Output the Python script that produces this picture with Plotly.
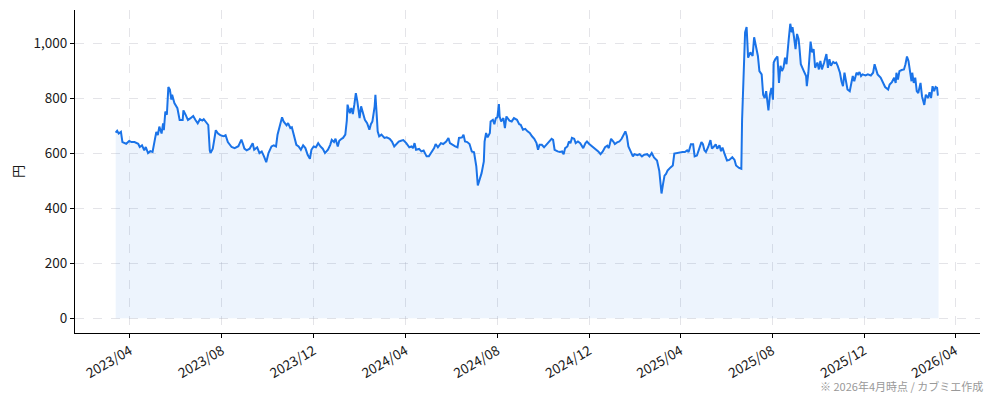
import pandas as pd
import plotly.graph_objects as go

# 日足の終値（チャートから読み取り）
dates_2023 = [
    "03-13", "03-15", "03-17", "03-20", "03-22", "03-27", "03-31", "04-03", "04-07", "04-12",
    "04-14", "04-17", "04-20", "04-22", "04-25", "04-28", "05-01", "05-04", "05-06", "05-08",
    "05-10", "05-13", "05-15", "05-16", "05-18", "05-20", "05-22", "05-24", "05-26", "05-27",
    "05-30", "06-03", "06-06", "06-10", "06-11", "06-14", "06-17", "06-20", "06-24", "06-27",
    "06-30", "07-03", "07-06", "07-08", "07-11", "07-14", "07-16", "07-17", "07-20", "07-24",
    "07-27", "07-30", "08-03", "08-06", "08-09", "08-14", "08-18", "08-23", "08-25", "08-27",
    "08-29", "08-31", "09-03", "09-07", "09-08", "09-11", "09-13", "09-17", "09-20", "09-23",
    "09-26", "09-29", "10-02", "10-06", "10-09", "10-12", "10-14", "10-17", "10-20", "10-22",
    "10-26", "10-28", "10-31", "11-02", "11-05", "11-08", "11-11", "11-14", "11-17", "11-20",
    "11-23", "11-26", "11-28", "12-01", "12-04", "12-07", "12-10", "12-13", "12-16", "12-20",
    "12-23", "12-25", "12-28", "12-30",
]
close_2023 = [
    674, 681, 671, 677, 640, 634, 644, 640, 640, 634,
    622, 628, 610, 622, 600, 607, 604, 649, 677, 665,
    696, 671, 708, 683, 751, 739, 840, 831, 794, 812,
    782, 763, 720, 720, 755, 739, 720, 726, 735, 720,
    708, 723, 718, 723, 714, 702, 610, 600, 616, 683,
    671, 665, 661, 665, 640, 622, 618, 625, 637, 649,
    634, 616, 610, 616, 621, 636, 612, 621, 600, 606,
    588, 567, 600, 624, 628, 624, 667, 697, 730, 715,
    701, 709, 691, 694, 661, 630, 624, 612, 628, 618,
    594, 579, 612, 624, 621, 636, 624, 616, 600, 612,
    630, 648, 640, 652,
]

dates_2024 = [
    "01-02", "01-04", "01-07", "01-09", "01-12", "01-14", "01-15", "01-18", "01-20", "01-22",
    "01-24", "01-26", "01-28", "01-31", "02-02", "02-04", "02-07", "02-10", "02-13", "02-15",
    "02-17", "02-20", "02-21", "02-23", "02-24", "02-26", "02-29", "03-04", "03-07", "03-11",
    "03-14", "03-17", "03-20", "03-23", "03-26", "03-29", "04-02", "04-06", "04-09", "04-11",
    "04-13", "04-15", "04-19", "04-22", "04-25", "04-29", "05-02", "05-06", "05-09", "05-11",
    "05-14", "05-18", "05-21", "05-25", "05-28", "05-30", "06-03", "06-06", "06-09", "06-11",
    "06-15", "06-17", "06-19", "06-22", "06-25", "06-28", "07-01", "07-04", "07-06", "07-08",
    "07-11", "07-14", "07-15", "07-17", "07-19", "07-22", "07-23", "07-26", "07-28", "07-30",
    "08-01", "08-03", "08-04", "08-06", "08-09", "08-11", "08-13", "08-17", "08-20", "08-23",
    "08-27", "08-30", "09-01", "09-04", "09-07", "09-10", "09-13", "09-16", "09-19", "09-22",
    "09-24", "09-26", "09-29", "10-02", "10-05", "10-08", "10-12", "10-14", "10-16", "10-20",
    "10-23", "10-26", "10-28", "10-30", "11-02", "11-04", "11-06", "11-08", "11-11", "11-13",
    "11-16", "11-19", "11-23", "11-26", "11-28", "12-01", "12-05", "12-08", "12-13", "12-16",
    "12-19", "12-22", "12-25", "12-27", "12-30",
]
close_2024 = [
    624, 645, 652, 655, 667, 718, 776, 745, 764, 742,
    776, 818, 788, 727, 770, 752, 721, 709, 685, 705,
    715, 770, 812, 727, 679, 661, 667, 655, 657, 652,
    642, 624, 633, 642, 645, 647, 636, 621, 624, 618,
    636, 612, 615, 606, 609, 588, 588, 606, 618, 633,
    621, 636, 633, 642, 655, 636, 628, 624, 621, 655,
    657, 667, 642, 640, 633, 606, 603, 552, 482, 503,
    527, 570, 642, 673, 657, 673, 715, 721, 705, 727,
    730, 778, 733, 715, 727, 691, 733, 718, 715, 727,
    721, 705, 703, 685, 688, 679, 673, 661, 652, 636,
    612, 630, 630, 621, 630, 642, 652, 648, 612, 606,
    604, 606, 596, 618, 624, 642, 636, 655, 652, 636,
    642, 636, 618, 636, 642, 633, 624, 618, 606, 596,
    606, 621, 627, 618, 652,
]

dates_2025 = [
    "01-02", "01-04", "01-07", "01-10", "01-13", "01-16", "01-18", "01-20", "01-22", "01-25",
    "01-28", "01-30", "02-03", "02-06", "02-09", "02-12", "02-16", "02-19", "02-22", "02-25",
    "03-01", "03-04", "03-06", "03-07", "03-09", "03-11", "03-13", "03-15", "03-19", "03-22",
    "03-24", "03-27", "03-31", "04-04", "04-07", "04-10", "04-12", "04-15", "04-18", "04-20",
    "04-23", "04-27", "04-29", "05-01", "05-03", "05-05", "05-08", "05-11", "05-13", "05-15",
    "05-18", "05-20", "05-23", "05-25", "05-27", "05-30", "06-02", "06-05", "06-09", "06-12",
    "06-14", "06-18", "06-21", "06-22", "06-24", "06-26", "06-28", "06-29", "06-30", "07-03",
    "07-06", "07-08", "07-11", "07-13", "07-15", "07-18", "07-20", "07-22", "07-24", "07-26",
    "07-27", "07-29", "07-31", "08-02", "08-03", "08-05", "08-08", "08-10", "08-12", "08-14",
    "08-16", "08-18", "08-20", "08-23", "08-25", "08-27", "08-28", "08-30", "09-01", "09-03",
    "09-05", "09-06", "09-08", "09-12", "09-15", "09-16", "09-18", "09-21", "09-23", "09-25",
    "09-27", "09-30", "10-02", "10-04", "10-06", "10-09", "10-12", "10-14", "10-16", "10-18",
    "10-21", "10-23", "10-25", "10-27", "10-30", "11-01", "11-03", "11-05", "11-07", "11-09",
    "11-12", "11-14", "11-16", "11-18", "11-21", "11-23", "11-25", "11-27", "11-29", "12-03",
    "12-06", "12-10", "12-13", "12-15", "12-17", "12-19", "12-23", "12-26", "12-29",
]
close_2025 = [
    642, 633, 639, 642, 652, 667, 679, 661, 624, 606,
    588, 596, 592, 596, 588, 594, 596, 588, 600, 584,
    573, 536, 487, 453, 487, 518, 524, 536, 548, 555,
    598, 600, 600, 604, 604, 610, 604, 632, 632, 588,
    591, 628, 640, 632, 610, 604, 622, 647, 616, 622,
    632, 616, 628, 607, 620, 595, 573, 575, 585, 575,
    555, 546, 543, 720, 904, 1039, 1058, 1002, 947, 966,
    953, 1021, 978, 953, 898, 886, 812, 800, 825, 757,
    755, 812, 837, 794, 929, 941, 951, 855, 917, 898,
    910, 947, 923, 1015, 1070, 1039, 1058, 1021, 978, 1033,
    1015, 990, 923, 898, 880, 843, 892, 1005, 966, 978,
    910, 929, 904, 935, 904, 929, 960, 910, 941, 917,
    931, 927, 929, 917, 892, 861, 843, 892, 867, 831,
    825, 849, 880, 861, 892, 886, 894, 880, 886, 882,
    886, 882, 892, 923, 904, 886, 874, 855, 840,
]

dates_2026 = [
    "01-02", "01-04", "01-07", "01-10", "01-12", "01-13", "01-15", "01-17", "01-20", "01-23",
    "01-25", "01-27", "01-29", "01-31", "02-02", "02-03", "02-05", "02-07", "02-09", "02-11",
    "02-14", "02-16", "02-17", "02-19", "02-21", "02-24", "02-26", "02-28", "03-02", "03-04",
    "03-06", "03-08", "03-09", "03-10",
]
close_2026 = [
    831, 849, 858, 874, 855, 892, 867, 898, 902, 904,
    923, 951, 935, 892, 861, 892, 855, 874, 825, 818,
    855, 806, 794, 775, 812, 800, 821, 800, 843, 825,
    840, 837, 812, 812,
]

tick_dates = ["2023-04-01", "2023-08-01", "2023-12-01", "2024-04-01", "2024-08-01",
              "2024-12-01", "2025-04-01", "2025-08-01", "2025-12-01", "2026-04-01"]
y_ticks = [0, 200, 400, 600, 800, 1000]

LINE = "#1a73e8"
FONT = "Noto Sans CJK JP, Noto Sans, sans-serif"

dates = []
close = []
for year, ds, cs in [(2023, dates_2023, close_2023), (2024, dates_2024, close_2024),
                     (2025, dates_2025, close_2025), (2026, dates_2026, close_2026)]:
    dates += [f"{year}-{d}" for d in ds]
    close += cs
df = pd.DataFrame({"date": pd.to_datetime(dates), "close": close})

fig = go.Figure()
fig.add_trace(go.Scatter(
    x=df["date"], y=df["close"], mode="lines",
    line=dict(color=LINE, width=2),
    fill="tozeroy", fillcolor="rgba(26,115,232,0.08)",
    hoverinfo="x+y", showlegend=False,
))

axis_common = dict(
    showline=True, linecolor="black", linewidth=1,
    ticks="outside", ticklen=4, tickcolor="black",
    showgrid=True, gridcolor="rgba(170,170,185,0.32)", griddash="dash", gridwidth=1,
    zeroline=False, automargin=False,
    tickfont=dict(size=13.5, color="#1a1a1a", family=FONT),
)

fig.update_xaxes(
    type="date",
    range=["2023-01-18", "2026-05-04"],
    tickvals=pd.to_datetime(tick_dates),
    ticktext=[pd.Timestamp(t).strftime("%Y/%m") for t in tick_dates],
    tickangle=-30,
    **axis_common,
)
fig.update_yaxes(
    range=[-54, 1120],
    tickvals=y_ticks,
    tickformat=",",
    title=dict(text="円", font=dict(size=13, color="#1a1a1a", family=FONT), standoff=12),
    **axis_common,
)

fig.add_annotation(
    text="※ 2026年4月時点 / カブミエ作成",
    xref="paper", yref="paper", x=1.0055, y=-0.163,
    xanchor="right", yanchor="middle", showarrow=False,
    font=dict(size=11, color="#999", family=FONT),
)

# ページ本体の余白 8px を見込んで図の大きさを決める
fig.update_layout(
    width=978, height=385,
    margin=dict(l=67, r=6, t=2, b=60),
    paper_bgcolor="white", plot_bgcolor="white",
    font=dict(family=FONT),
)

fig.write_html("out.html")
